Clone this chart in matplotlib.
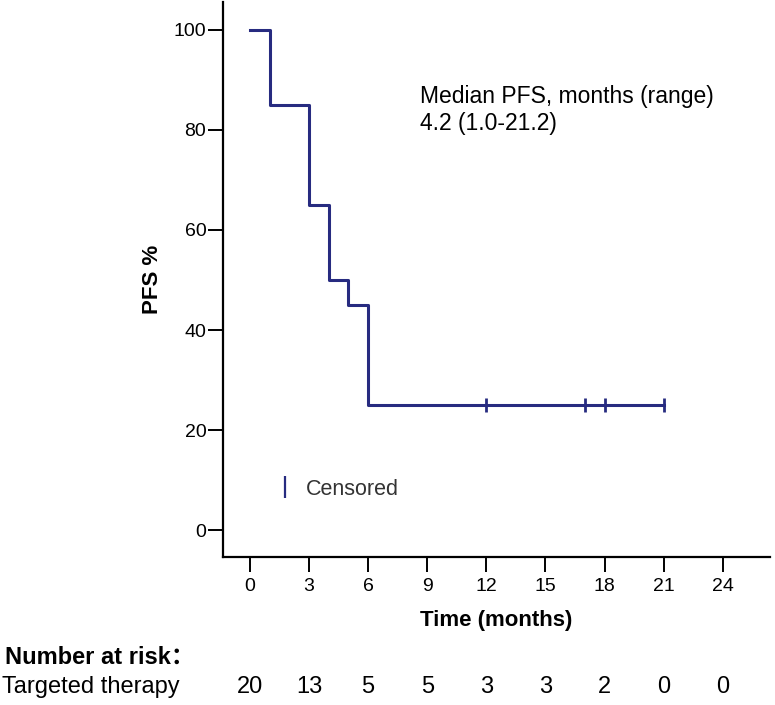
import matplotlib
matplotlib.use('Agg')
import matplotlib.pyplot as plt
import matplotlib.transforms as mtransforms
from matplotlib.lines import Line2D

# Kaplan-Meier step values
times = [0, 1, 3, 4, 5, 6, 21]
pfs = [100, 85, 65, 50, 45, 25, 25]
censor_times = [12, 17, 18, 21]
censor_pfs = [25, 25, 25, 25]

x_ticks = [0, 3, 6, 9, 12, 15, 18, 21, 24]
y_ticks = [0, 20, 40, 60, 80, 100]
at_risk = [20, 13, 5, 5, 3, 3, 2, 0, 0]

navy = '#272b80'
plt.rcParams['font.family'] = ['Liberation Sans', 'Noto Sans CJK SC', 'DejaVu Sans']

fig = plt.figure(figsize=(7.75, 7.05), dpi=100)
ax = fig.add_axes([0.2877, 0.2099, 0.7058, 0.7873])

ax.step(times, pfs, where='post', color=navy, lw=2.2)
ax.plot(censor_times, censor_pfs, ls='none', marker='|', ms=10, mew=2, color=navy)

ax.set_xlim(-1.37, 26.4)
ax.set_ylim(-5.4, 105.6)
ax.set_xticks(x_ticks)
ax.set_yticks(y_ticks)
for side in ['top', 'right']:
    ax.spines[side].set_visible(False)
for side in ['left', 'bottom']:
    ax.spines[side].set_linewidth(1.6)
ax.tick_params(axis='both', length=11, width=1.4, labelsize=14, colors='black')
ax.tick_params(axis='y', pad=1)
ax.tick_params(axis='x', pad=4)

ax.set_xlabel('Time (months)', fontsize=16, fontweight='bold', labelpad=11)
ax.set_ylabel('PFS %', fontsize=16, fontweight='bold', labelpad=8)

ax.text(8.65, 89.0, 'Median PFS, months (range)\n4.2 (1.0-21.2)',
        fontsize=16.5, va='top', ha='left', linespacing=1.2)

handle = Line2D([], [], ls='none', marker='|', ms=16, mew=1.6, color=navy)
ax.legend(handles=[handle], labels=['Censored'], loc='center left',
          bbox_to_anchor=(0.063, 0.1225), frameon=False, fontsize=15.5,
          handlelength=0.8, handletextpad=0.55, labelcolor='#333333')

fig.text(0.006, 0.068, 'Number at risk：', fontsize=17, fontweight='bold', va='center')
fig.text(0.002, 0.0255, 'Targeted therapy', fontsize=17, va='center')
blend = mtransforms.blended_transform_factory(ax.transData, fig.transFigure)
for t, n in zip(x_ticks, at_risk):
    ax.text(t, 0.0255, str(n), transform=blend, ha='center', va='center',
            fontsize=17, clip_on=False)

fig.savefig('out.png', dpi=100)
